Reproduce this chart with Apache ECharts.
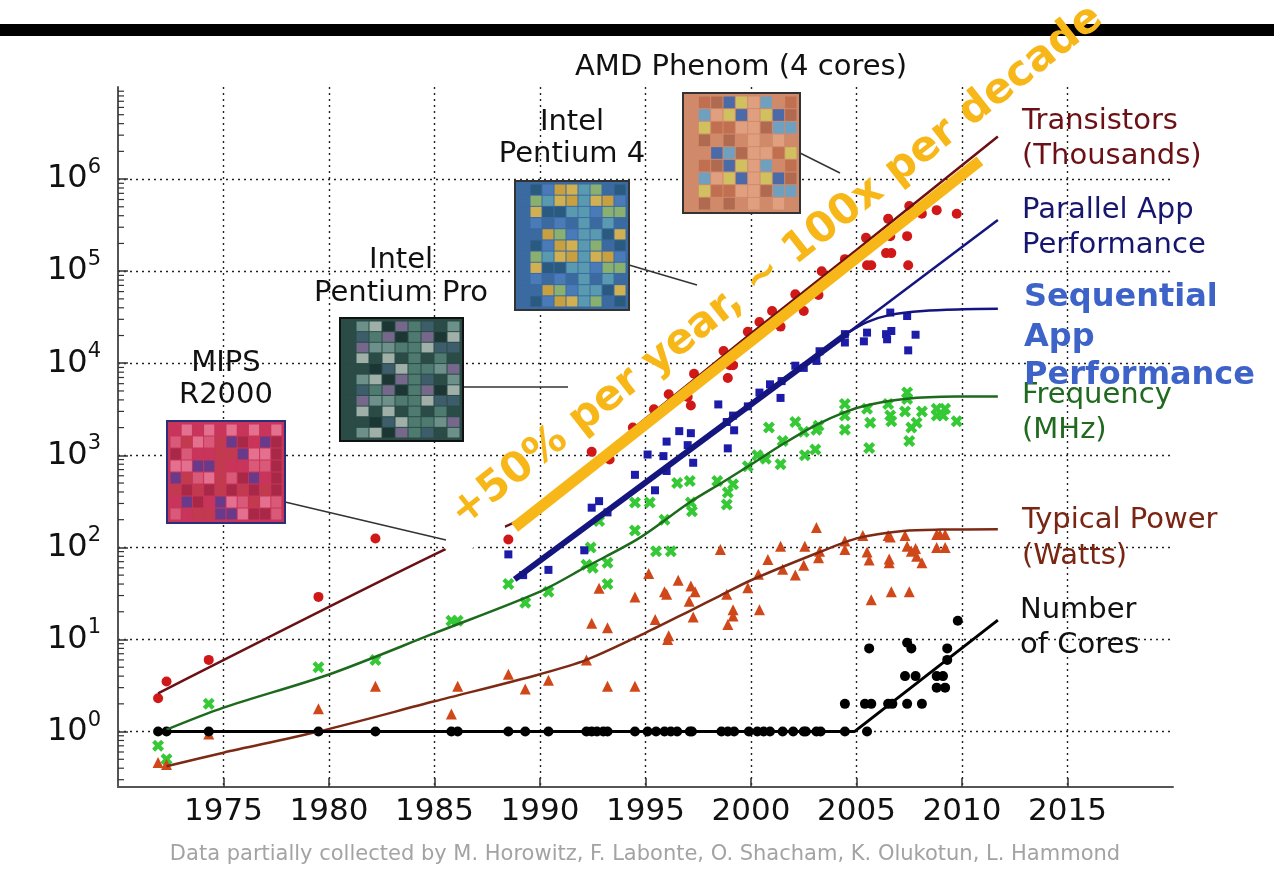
<!DOCTYPE html>
<html>
<head>
<meta charset="utf-8">
<title>Processor trends</title>
<script src="https://cdn.jsdelivr.net/npm/echarts@6/dist/echarts.min.js"></script>
<style>
  html, body { margin: 0; padding: 0; background: #fff; }
  #chart { width: 1274px; height: 878px; }
</style>
</head>
<body>
<div id="chart"></div>
<script>
/// DATA ///
// [year, value]
var transistors = [
    [1971.9, 2.3], [1972.3, 3.5], [1974.3, 6], [1979.5, 29], [1982.2, 125], [1988.5, 122],
    [1992.45, 1090], [1993.3, 900], [1994.4, 2000], [1995.4, 3160], [1996.1, 4600], [1997.0, 4300],
    [1997.15, 3470], [1997.3, 7700], [1998.7, 13600], [1998.9, 6900], [1999.0, 9500], [1999.15, 9500],
    [1999.85, 22000], [2000.4, 28000], [2001.0, 37000], [2001.4, 25000], [2002.1, 56000], [2002.5, 37000],
    [2003.2, 55000], [2003.35, 100000], [2004.45, 135000], [2005.45, 230000], [2005.5, 116000], [2005.7, 116000],
    [2006.4, 157000], [2006.5, 370000], [2006.6, 240000], [2006.65, 157000], [2007.4, 240000], [2007.45, 116000],
    [2007.5, 510000], [2008.1, 420000], [2008.8, 460000], [2009.75, 420000]
];
var transistorFit = [
    [1971.9, 2.6], [1985.5, 95], [1989, 200], [1995, 2500], [2000, 21000], [2005, 170000], [2011.7, 2900000]
];

var seqPerf = [
    [1988.5, 84], [1989.2, 50], [1990.4, 57], [1992.1, 93], [1992.45, 270], [1992.8, 318], [1993.2, 240],
    [1994.5, 614], [1995.1, 1020], [1995.45, 417], [1995.85, 980], [1996.0, 1410], [1996.0, 676],
    [1996.6, 1830], [1997.0, 1290], [1997.15, 1740], [1997.26, 830], [1998.45, 3570], [1998.85, 2300],
    [1998.9, 1190], [1999.15, 2700], [1999.2, 1870], [1999.85, 3400], [2000.4, 4800], [2000.9, 5900],
    [2001.4, 4200], [2001.45, 6400], [2002.1, 9400], [2002.5, 8900], [2003.1, 10600], [2003.25, 13500],
    [2004.45, 20700], [2004.45, 16800], [2005.35, 17300], [2005.5, 21500], [2006.4, 20700], [2006.45, 18200],
    [2006.6, 35500], [2006.65, 22400], [2007.4, 32600], [2007.45, 13800], [2007.8, 20400]
];
var perfFit = [[1988.8, 45], [2004.6, 21500]];
var seqFit = [[2004.6, 21500], [2005.5, 28000], [2006.6, 33500], [2008.15, 37000], [2010, 38500], [2011.7, 39000]];
var parFit = [[2004.6, 21500], [2011.7, 360000]];

var frequency = [
    [1971.9, 0.7], [1972.3, 0.5], [1974.3, 2.0], [1979.5, 5.0], [1982.2, 6.0], [1985.8, 16], [1986.1, 16],
    [1988.5, 40], [1989.3, 25], [1990.4, 33], [1992.2, 65], [1992.4, 100], [1992.5, 60], [1992.8, 194],
    [1993.2, 68], [1993.2, 40], [1994.5, 307], [1994.5, 153], [1995.2, 307], [1995.5, 91], [1995.9, 200],
    [1996.2, 91], [1996.5, 500], [1997.1, 525], [1997.15, 307], [1997.2, 247], [1998.4, 525], [1998.85, 293],
    [1998.9, 394], [1999.15, 484], [1999.85, 760], [2000.3, 1000], [2000.7, 920], [2000.85, 2000],
    [2001.4, 800], [2001.5, 1430], [2002.1, 2300], [2002.5, 1800], [2002.55, 1000], [2003.05, 1160],
    [2003.1, 1900], [2003.2, 2100], [2004.45, 3600], [2004.45, 2700], [2004.45, 1900], [2005.5, 3200],
    [2005.6, 1200], [2005.65, 2260], [2006.5, 3600], [2006.6, 2700], [2006.65, 2350], [2007.3, 3000],
    [2007.4, 4800], [2007.4, 4100], [2007.5, 1430], [2007.6, 2000], [2007.85, 2260], [2008.1, 3000],
    [2008.8, 3200], [2008.8, 2700], [2009.1, 2700], [2009.2, 3200], [2009.75, 2350]
];
var frequencyFit = [
    [1972.3, 1.05], [1975, 1.82], [1980, 4.17], [1985, 11.7], [1990, 33.1], [1992.2, 61.7], [1994.7, 126],
    [1997.1, 309], [1998.6, 501], [2000, 794], [2001.5, 1318], [2003.1, 2138], [2004.45, 2951],
    [2005.6, 3548], [2007.4, 4121], [2009.75, 4345], [2011.7, 4365]
];

var power = [
    [1971.9, 0.46], [1972.3, 0.44], [1974.3, 0.94], [1979.5, 1.77], [1982.2, 3.1], [1985.8, 1.55], [1986.1, 3.1],
    [1988.5, 4.2], [1989.3, 2.9], [1990.4, 3.6], [1992.2, 6.0], [1992.45, 15], [1992.8, 36], [1993.2, 13.4],
    [1993.2, 3.1], [1994.5, 29], [1994.5, 3.1], [1995.15, 52], [1995.46, 16.5], [1995.9, 33], [1996.0, 31],
    [1996.1, 11], [1996.05, 10], [1996.55, 44], [1997.07, 26], [1997.15, 38], [1997.26, 17.5], [1997.35, 33],
    [1998.55, 95], [1998.85, 31], [1998.9, 14.5], [1999.15, 21], [1999.15, 18], [1999.85, 36.5], [2000.35, 51],
    [2000.4, 21], [2000.8, 74], [2001.4, 103], [2001.5, 58], [2002.1, 50], [2002.5, 64], [2002.55, 103],
    [2003.1, 164], [2003.2, 77], [2003.25, 91], [2004.45, 117], [2004.45, 95], [2005.3, 135], [2005.5, 89],
    [2005.6, 73], [2005.7, 27], [2006.5, 135], [2006.55, 75], [2006.55, 68], [2006.6, 130], [2006.65, 33],
    [2007.3, 135], [2007.4, 103], [2007.5, 33], [2007.6, 91], [2007.8, 97], [2007.85, 80], [2008.1, 68],
    [2008.8, 138], [2008.8, 100], [2008.95, 138], [2009.2, 138], [2009.2, 100]
];
var powerFit = [
    [1972.3, 0.42], [1975, 0.59], [1979.5, 1.0], [1985, 2.13], [1990, 4.2], [1992.2, 6.0], [1995, 11.8],
    [1997.2, 21], [1998.5, 29.6], [2000, 44], [2003.2, 88], [2005.1, 127], [2007.2, 151], [2009, 156], [2011.7, 157]
];

var cores = [
    [1971.9, 1], [1972.3, 1], [1974.3, 1], [1979.5, 1], [1982.2, 1], [1985.8, 1], [1986.1, 1], [1988.5, 1],
    [1989.3, 1], [1990.4, 1], [1992.2, 1], [1992.45, 1], [1992.7, 1], [1993.0, 1], [1993.2, 1], [1994.5, 1],
    [1995.1, 1], [1995.5, 1], [1995.9, 1], [1996.2, 1], [1996.5, 1], [1997.1, 1], [1997.2, 1], [1998.6, 1],
    [1998.9, 1], [1999.2, 1], [1999.9, 1], [2000.3, 1], [2000.6, 1], [2000.9, 1], [2001.5, 1], [2002.0, 1],
    [2002.5, 1], [2002.6, 1], [2003.1, 1], [2003.3, 1], [2004.45, 1], [2005.5, 1],
    [2004.45, 2], [2005.4, 2], [2005.7, 2], [2006.5, 2], [2006.7, 2], [2007.4, 2], [2008.1, 2],
    [2005.6, 8], [2007.4, 9.2], [2007.6, 8], [2007.3, 4], [2007.8, 4], [2008.8, 4], [2009.1, 4],
    [2008.8, 3], [2009.2, 3], [2009.3, 6], [2009.3, 8], [2009.8, 16]
];
var coresFit = [[1971.8, 1], [2004.9, 1], [2011.7, 16.2]];

// the "+50% per year" guide line
var guideLine = [[1988.8, 165], [2010.85, 1580000]];
var guideText = '+50% per year, ~ 100x per decade';

var xTickStep = 5;
var minorMults = [2, 3, 4, 5, 6, 7, 8, 9];
var decades = [0.1, 1, 10, 100, 1e3, 1e4, 1e5, 1e6];

/// HELPERS ///

var FONT = "'DejaVu Sans', sans-serif";

function fitLine(name, data, color, width, smooth) {
    return {
        name: name, type: 'line', data: data, showSymbol: false, silent: true,
        smooth: smooth || false,
        lineStyle: { color: color, width: width }
    };
}

function dots(name, data, symbol, size, color) {
    return {
        name: name, type: 'scatter', data: data, symbol: symbol, symbolSize: size,
        itemStyle: { color: color, opacity: 1 }
    };
}

function label(text, x, y, color, size, align, weight) {
    return {
        type: 'text', x: x, y: y, z: 40,
        style: {
            text: text, fill: color, font: (weight || 'normal') + ' ' + size + 'px ' + FONT,
            align: align || 'left', verticalAlign: 'middle'
        }
    };
}

// a die photo stand-in: a framed mosaic of coloured blocks
function chip(x, y, w, h, cols, rows, palette, border) {
    var els = [{
        type: 'rect', z: 30, shape: { x: x, y: y, width: w, height: h },
        style: { fill: palette[0], stroke: border, lineWidth: 2 }
    }];
    var cw = (w - 6) / cols, ch = (h - 6) / rows;
    for (var i = 0; i < cols; i++) {
        for (var j = 0; j < rows; j++) {
            var c = palette[(i * 3 + j * 7 + (i * j) % 5) % palette.length];
            els.push({
                type: 'rect', z: 31,
                shape: { x: x + 3 + i * cw + 0.5, y: y + 3 + j * ch + 0.5, width: cw - 1, height: ch - 1 },
                style: { fill: c }
            });
        }
    }
    return els;
}

function callout(x1, y1, x2, y2) {
    return { type: 'line', z: 29, shape: { x1: x1, y1: y1, x2: x2, y2: y2 }, style: { stroke: '#333', lineWidth: 1.5 } };
}

/// CHART ///

var minorTicks = [];
decades.forEach(function (d) {
    minorMults.forEach(function (m) {
        var v = d * m;
        if (v > 0.25 && v < 1e7) minorTicks.push([1970, v]);
    });
});

var chart = echarts.init(document.getElementById('chart'));

var gridLine = { show: true, showMinLine: false, showMaxLine: false, lineStyle: { color: '#222', width: 1.4, type: [2, 4] } };

var elements = [
    { type: 'rect', z: 50, shape: { x: 0, y: 24, width: 1274, height: 12 }, style: { fill: '#000' } },
    // white patch behind the start of the annotation
    { type: 'polygon', z: 20, shape: { points: [[438, 540], [452, 557], [506, 533], [500, 498], [458, 498]] }, style: { fill: '#fff' } },
    callout(285, 502, 446, 540),
    callout(463, 387, 568, 387),
    callout(629, 265, 697, 285),
    callout(800, 153, 840, 173),
    label('AMD Phenom (4 cores)', 741, 67, '#111', 29, 'center'),
    label('Intel', 572, 122, '#111', 29, 'center'),
    label('Pentium 4', 572, 154, '#111', 29, 'center'),
    label('Intel', 401, 260, '#111', 29, 'center'),
    label('Pentium Pro', 401, 293, '#111', 29, 'center'),
    label('MIPS', 226, 363, '#111', 29, 'center'),
    label('R2000', 226, 395, '#111', 29, 'center'),
    label('Transistors', 1022, 121, '#6b1014', 29),
    label('(Thousands)', 1022, 156, '#6b1014', 29),
    label('Parallel App', 1022, 210, '#16166e', 29),
    label('Performance', 1022, 245, '#16166e', 29),
    label('Frequency', 1022, 395, '#1f6a1f', 29),
    label('(MHz)', 1022, 430, '#1f6a1f', 29),
    label('Typical Power', 1022, 520, '#7a2412', 29),
    label('(Watts)', 1022, 556, '#7a2412', 29),
    label('Number', 1020, 610, '#111', 29),
    label('of Cores', 1020, 645, '#111', 29),
    label('Sequential', 1024, 298, '#3d63c9', 32, 'left', 'bold'),
    label('App', 1024, 338, '#3d63c9', 32, 'left', 'bold'),
    label('Performance', 1024, 376, '#3d63c9', 32, 'left', 'bold'),
    label('Data partially collected by M. Horowitz, F. Labonte, O. Shacham, K. Olukotun, L. Hammond', 645, 855, '#a3a3a3', 21, 'center'),
    {
        type: 'text', x: 777, y: 266, rotation: 0.667, z: 60,
        style: { text: guideText, fill: '#f7b718', font: 'bold 42px ' + FONT, align: 'center', verticalAlign: 'middle' }
    }
];
elements = elements
    .concat(chip(167, 421, 118, 102, 10, 8, ['#c8345a', '#d85a78', '#a82848', '#e47090', '#6a3a8a', '#c23a4e'], '#2a2f7a'))
    .concat(chip(340, 318, 123, 123, 9, 11, ['#2b4b47', '#4f7a70', '#1c3634', '#6d918a', '#3d5d6a', '#75688a', '#a0b0a8'], '#111'))
    .concat(chip(515, 181, 114, 129, 9, 11, ['#3a6aa0', '#5a9ab0', '#c8a040', '#2a5a80', '#8ab070', '#d0b050', '#4a7ab8'], '#333'))
    .concat(chip(683, 93, 117, 120, 9, 9, ['#d08a6a', '#e0a080', '#4a6aa8', '#c07050', '#70a0c0', '#d0c060', '#b06a50'], '#333'));

var option = {
    animation: false,
    grid: { left: 118, right: 101, top: 87, bottom: 91 },
    xAxis: {
        type: 'value', min: 1970, max: 2020, interval: xTickStep,
        axisLine: { lineStyle: { color: '#555', width: 2 } },
        axisTick: { inside: true, length: 9, lineStyle: { color: '#333', width: 1.5 } },
        axisLabel: {
            showMinLabel: false, showMaxLabel: false, margin: 9,
            fontFamily: 'DejaVu Sans', fontSize: 31, color: '#111',
            formatter: function (v) { return String(v); }
        },
        splitLine: gridLine
    },
    yAxis: {
        type: 'log', logBase: 10, min: 0.25, max: 1e7,
        axisLine: { show: true, lineStyle: { color: '#555', width: 2 } },
        axisTick: { show: true, inside: true, length: 10, lineStyle: { color: '#333', width: 1.5 } },
        axisLabel: {
            showMinLabel: false, showMaxLabel: false, margin: 17,
            formatter: function (v) {
                return '{b|10}{s|' + Math.round(Math.log(v) / Math.LN10) + '}';
            },
            rich: {
                b: { fontFamily: 'DejaVu Sans', fontSize: 32, color: '#111', lineHeight: 44 },
                s: { fontFamily: 'DejaVu Sans', fontSize: 21, color: '#111', lineHeight: 21, verticalAlign: 'top' }
            }
        },
        splitLine: gridLine
    },
    graphic: { elements: elements },
    series: [
        {
            type: 'custom', data: minorTicks, silent: true, clip: false,
            renderItem: function (params, api) {
                var p = api.coord([api.value(0), api.value(1)]);
                return { type: 'line', shape: { x1: p[0], y1: p[1], x2: p[0] + 6, y2: p[1] }, style: { stroke: '#333', lineWidth: 1.2 } };
            }
        },
        fitLine('Transistors fit', transistorFit, '#6b1014', 2.5, 0.25),
        fitLine('Frequency fit', frequencyFit, '#1d6a1d', 2.5, 0.3),
        fitLine('Power fit', powerFit, '#7d2a14', 2.5, 0.3),
        fitLine('Cores fit', coresFit, '#000', 3),
        fitLine('Sequential fit', seqFit, '#151580', 2.5, 0.3),
        fitLine('Parallel fit', parFit, '#151580', 2.5),
        fitLine('Performance fit', perfFit, '#151580', 6),
        dots('Transistors', transistors, 'circle', 10, '#d01818'),
        dots('Frequency', frequency, 'path://M0,3 L3,0 L6,3 L9,0 L12,3 L9,6 L12,9 L9,12 L6,9 L3,12 L0,9 L3,6 Z', 12, '#36c936'),
        dots('Sequential', seqPerf, 'rect', 8, '#1c1ca8'),
        dots('Power', power, 'triangle', 11, '#d0481a'),
        dots('Cores', cores, 'circle', 10, '#000'),
        {
            name: 'guide', type: 'line', data: guideLine, showSymbol: false, silent: true, z: 25,
            lineStyle: { color: '#f7b718', width: 11, cap: 'butt' }
        }
    ]
};

chart.setOption(option);
</script>
</body>
</html>
